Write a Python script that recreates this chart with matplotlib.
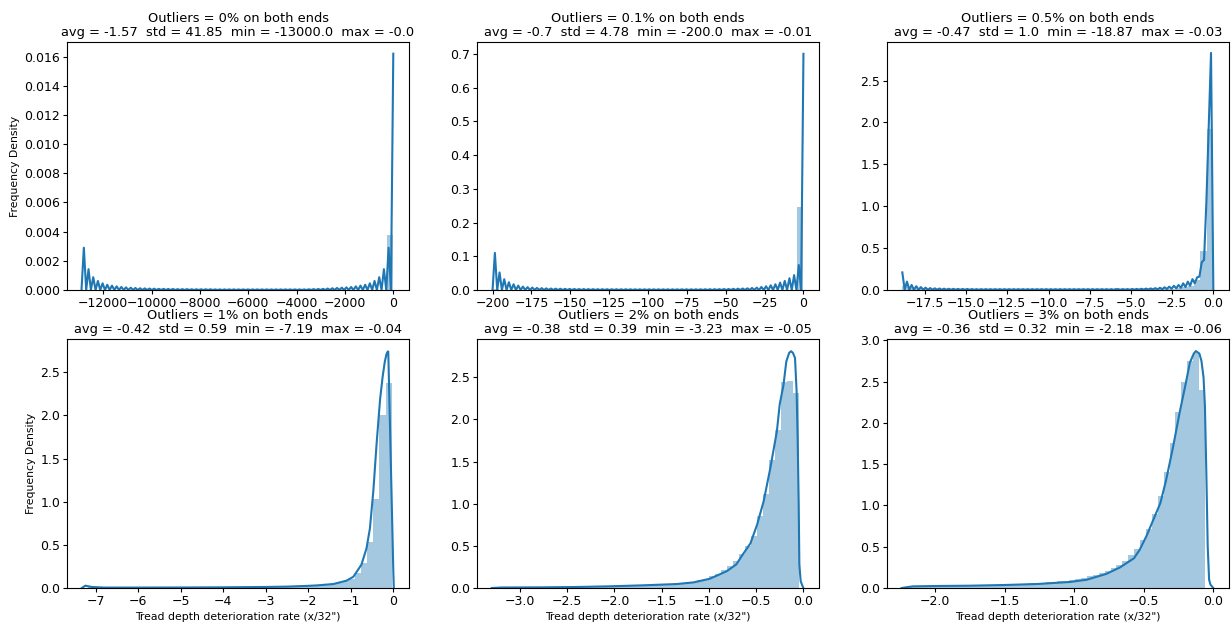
import numpy as np
import matplotlib
matplotlib.use("Agg")
import matplotlib.pyplot as plt
from matplotlib.ticker import MultipleLocator

# ---------------- data ----------------
outlier_pct = ["0%", "0.1%", "0.5%", "1%", "2%", "3%"]
stat_avg = ["-1.57", "-0.7", "-0.47", "-0.42", "-0.38", "-0.36"]
stat_std = ["41.85", "4.78", "1.0", "0.59", "0.39", "0.32"]
stat_min = ["-13000.0", "-200.0", "-18.87", "-7.19", "-3.23", "-2.18"]
stat_max = ["-0.0", "-0.01", "-0.03", "-0.04", "-0.05", "-0.06"]

# histogram range (data min / max) for each panel, 50 bins each
hist_lo = [-13000.0, -200.0, -18.87, -7.19, -3.23, -2.18]
hist_hi = [0.0, -0.01, -0.03, -0.04, -0.05, -0.06]

# density heights of the 50 bins (left -> right)
hist1 = [0.00002, 0.000005, 0.000003, 0.000002, 0.000002, 0.000001, 0.000001, 0.000001, 0.000001, 0.000001,
         0.000001, 0.000001, 0.000001, 0.000001, 0.000001, 0.000001, 0.000001, 0.000001, 0.000001, 0.000001,
         0.000001, 0.000001, 0.000001, 0.000001, 0.000001, 0.000001, 0.000001, 0.000001, 0.000001, 0.000001,
         0.000001, 0.000001, 0.000001, 0.000001, 0.000001, 0.000001, 0.000001, 0.000001, 0.000001, 0.000001,
         0.000001, 0.000001, 0.000002, 0.000002, 0.000002, 0.000003, 0.000004, 0.000006, 0.00002, 0.0038]
hist2 = [0.002, 0.0004, 0.0002, 0.0001, 0.0001, 0.0001, 0.0001, 0.0001, 0.0001, 0.0001,
         0.0001, 0.0001, 0.0001, 0.0001, 0.0001, 0.0001, 0.0001, 0.0001, 0.0001, 0.0001,
         0.0001, 0.0001, 0.0001, 0.0001, 0.0001, 0.0001, 0.0001, 0.0001, 0.0001, 0.0001,
         0.0001, 0.0001, 0.0001, 0.0001, 0.0001, 0.0001, 0.0001, 0.0001, 0.0001, 0.0001,
         0.0001, 0.0001, 0.0001, 0.0001, 0.0001, 0.0002, 0.0002, 0.0003, 0.001, 0.245]
hist3 = [0.05, 0.025, 0.015, 0.012, 0.01, 0.009, 0.008, 0.008, 0.007, 0.007,
         0.006, 0.006, 0.006, 0.006, 0.006, 0.006, 0.006, 0.006, 0.006, 0.006,
         0.006, 0.006, 0.006, 0.006, 0.006, 0.006, 0.006, 0.006, 0.006, 0.006,
         0.006, 0.006, 0.006, 0.006, 0.006, 0.006, 0.006, 0.006, 0.006, 0.006,
         0.008, 0.01, 0.012, 0.016, 0.022, 0.03, 0.05, 0.12, 0.47, 1.92]
hist4 = [0.02, 0.006, 0.005, 0.005, 0.004, 0.004, 0.004, 0.004, 0.004, 0.004,
         0.004, 0.005, 0.005, 0.005, 0.005, 0.005, 0.006, 0.006, 0.006, 0.007,
         0.007, 0.007, 0.008, 0.008, 0.009, 0.01, 0.01, 0.011, 0.012, 0.013,
         0.014, 0.015, 0.016, 0.018, 0.02, 0.022, 0.025, 0.03, 0.035, 0.04,
         0.05, 0.06, 0.08, 0.11, 0.17, 0.29, 0.53, 1.03, 2.01, 2.38]
hist5 = [0.006, 0.006, 0.007, 0.007, 0.008, 0.008, 0.009, 0.009, 0.01, 0.011,
         0.012, 0.013, 0.014, 0.015, 0.016, 0.017, 0.018, 0.019, 0.02, 0.022,
         0.024, 0.026, 0.028, 0.03, 0.032, 0.035, 0.038, 0.04, 0.045, 0.05,
         0.055, 0.065, 0.075, 0.09, 0.11, 0.14, 0.17, 0.21, 0.26, 0.32,
         0.40, 0.50, 0.62, 0.85, 1.12, 1.52, 1.88, 2.45, 2.46, 2.32]
hist6 = [0.02, 0.021, 0.022, 0.023, 0.024, 0.025, 0.026, 0.027, 0.028, 0.029,
         0.03, 0.032, 0.034, 0.036, 0.038, 0.04, 0.042, 0.045, 0.048, 0.05,
         0.055, 0.06, 0.065, 0.07, 0.075, 0.08, 0.09, 0.10, 0.11, 0.12,
         0.14, 0.16, 0.18, 0.21, 0.24, 0.28, 0.33, 0.40, 0.47, 0.58,
         0.72, 0.90, 1.12, 1.40, 1.76, 2.13, 2.50, 2.75, 2.85, 2.40]

# KDE curves: evaluation grid range + number of grid points, and densities
kde1_grid = (-12900.0, 0.0, 134)
kde1_y = [0.0, 0.0029, 0.0, 0.00143, 0.0, 0.00088, 0.0, 0.00062, 0.0, 0.00046,
          0.0, 0.00036, 0.0, 0.0003, 0.0, 0.00025, 0.0, 0.00021, 0.0, 0.00018,
          0.0, 0.00016, 0.0, 0.00014, 0.0, 0.00012, 0.0, 0.00011, 0.0, 0.0001,
          0.0, 0.00009, 0.0, 0.00008, 0.0, 0.00008, 0.0, 0.00007, 0.0, 0.00007,
          0.0, 0.00006, 0.0, 0.00006, 0.0, 0.00006, 0.0, 0.00005, 0.0, 0.00005,
          0.0, 0.00005, 0.0, 0.00005, 0.0, 0.00005, 0.0, 0.00004, 0.0, 0.00004,
          0.0, 0.00004, 0.0, 0.00004, 0.0, 0.00004, 0.0, 0.00004, 0.0, 0.00004,
          0.0, 0.00004, 0.0, 0.00004, 0.0, 0.00004, 0.0, 0.00004, 0.0, 0.00004,
          0.0, 0.00004, 0.0, 0.00004, 0.0, 0.00004, 0.0, 0.00004, 0.0, 0.00004,
          0.0, 0.00004, 0.0, 0.00004, 0.0, 0.00004, 0.0, 0.00005, 0.0, 0.00006,
          0.0, 0.00007, 0.0, 0.00008, 0.0, 0.0001, 0.0, 0.00012, 0.0, 0.00014,
          0.0, 0.00016, 0.0, 0.00018, 0.0, 0.00021, 0.0, 0.00025, 0.0, 0.0003,
          0.0, 0.00036, 0.0, 0.00046, 0.0, 0.00062, 0.0, 0.00088, 0.0, 0.00143,
          0.0, 0.0029, 0.0, 0.0162]

kde2_grid = (-200.0, 0.0, 134)
kde2_y = [0.0, 0.110, 0.0, 0.052, 0.0, 0.032, 0.0, 0.023, 0.0, 0.017,
          0.0, 0.013, 0.0, 0.010, 0.0, 0.0085, 0.0, 0.0072, 0.0, 0.0062,
          0.0, 0.0055, 0.0, 0.0049, 0.0, 0.0044, 0.0, 0.004, 0.0, 0.0037,
          0.0, 0.0034, 0.0, 0.0032, 0.0, 0.003, 0.0, 0.0028, 0.0, 0.0027,
          0.0, 0.0026, 0.0, 0.0025, 0.0, 0.0024, 0.0, 0.0023, 0.0, 0.0023,
          0.0, 0.0022, 0.0, 0.0022, 0.0, 0.0021, 0.0, 0.0021, 0.0, 0.0021,
          0.0, 0.002, 0.0, 0.002, 0.0, 0.002, 0.0, 0.002, 0.0, 0.002,
          0.0, 0.002, 0.0, 0.002, 0.0, 0.002, 0.0, 0.002, 0.0, 0.002,
          0.0, 0.002, 0.0, 0.002, 0.0, 0.002, 0.0, 0.002, 0.0, 0.0021,
          0.0, 0.0022, 0.0, 0.0023, 0.0, 0.0024, 0.0, 0.0025, 0.0, 0.0028,
          0.0, 0.003, 0.0, 0.0035, 0.0, 0.004, 0.0, 0.0045, 0.0, 0.005,
          0.0, 0.006, 0.0, 0.007, 0.0, 0.009, 0.0, 0.011, 0.0, 0.014,
          0.0, 0.017, 0.0, 0.022, 0.0, 0.027, 0.0, 0.035, 0.0, 0.044,
          0.0, 0.074, 0.0, 0.70]

kde3_grid = (-18.87, 0.0, 135)
kde3_y = [0.21, 0.005, 0.10, 0.004, 0.06, 0.003, 0.045, 0.003, 0.035, 0.003,
          0.028, 0.003, 0.023, 0.003, 0.02, 0.003, 0.018, 0.003, 0.016, 0.003,
          0.015, 0.003, 0.014, 0.003, 0.013, 0.003, 0.012, 0.003, 0.012, 0.003,
          0.011, 0.003, 0.01, 0.003, 0.01, 0.003, 0.01, 0.003, 0.01, 0.003,
          0.01, 0.003, 0.01, 0.003, 0.01, 0.003, 0.01, 0.003, 0.01, 0.003,
          0.01, 0.003, 0.01, 0.003, 0.01, 0.003, 0.01, 0.003, 0.01, 0.003,
          0.01, 0.003, 0.01, 0.003, 0.01, 0.003, 0.01, 0.003, 0.01, 0.003,
          0.01, 0.003, 0.01, 0.003, 0.01, 0.003, 0.01, 0.003, 0.01, 0.003,
          0.01, 0.003, 0.01, 0.003, 0.01, 0.003, 0.01, 0.003, 0.01, 0.003,
          0.01, 0.003, 0.01, 0.01, 0.003, 0.011, 0.003, 0.011, 0.003, 0.012,
          0.004, 0.013, 0.004, 0.015, 0.005, 0.017, 0.006, 0.019, 0.007, 0.022,
          0.008, 0.026, 0.01, 0.032, 0.012, 0.04, 0.015, 0.05, 0.02, 0.06,
          0.025, 0.08, 0.035, 0.10, 0.05, 0.13, 0.08, 0.15, 0.16, 0.33,
          0.36, 1.05, 1.94, 2.83, 0.0]

kde4_x = [-7.33, -7.25, -7.1, -6.8, -6.0, -5.0, -4.0, -3.0, -2.5, -2.0, -1.8, -1.41, -1.1, -0.94,
          -0.75, -0.63, -0.55, -0.47, -0.39, -0.31, -0.25, -0.2, -0.16, -0.13, -0.118, -0.08,
          -0.04, 0.0, 0.012]
kde4_y = [0.0, 0.027, 0.012, 0.005, 0.005, 0.006, 0.008, 0.012, 0.016, 0.025, 0.03, 0.046, 0.085, 0.13,
          0.27, 0.46, 0.69, 1.12, 1.69, 2.19, 2.45, 2.62, 2.71, 2.74, 2.74, 1.93,
          1.07, 0.21, 0.0]

kde5_x = [-3.3, -3.2, -2.75, -2.4, -2.05, -1.69, -1.34, -1.16, -0.99, -0.81, -0.71, -0.64, -0.56,
          -0.49, -0.42, -0.35, -0.28, -0.25, -0.21, -0.18, -0.15, -0.13, -0.11, -0.088, -0.071,
          -0.06, -0.049, -0.042, -0.028, 0.0]
kde5_y = [0.0, 0.006, 0.008, 0.012, 0.02, 0.032, 0.047, 0.067, 0.11, 0.20, 0.28, 0.40, 0.53,
          0.75, 1.03, 1.42, 1.86, 2.18, 2.41, 2.69, 2.79, 2.81, 2.79, 2.73, 2.33,
          1.78, 0.99, 0.28, 0.08, 0.0]

kde6_x = [-2.24, -2.16, -2.0, -1.75, -1.51, -1.27, -1.03, -0.91, -0.77, -0.67, -0.57, -0.53, -0.48,
          -0.43, -0.38, -0.34, -0.29, -0.24, -0.2, -0.168, -0.14, -0.125, -0.1, -0.085, -0.07,
          -0.06, -0.05, -0.04, -0.03, -0.02, 0.0]
kde6_y = [0.0, 0.02, 0.024, 0.028, 0.036, 0.048, 0.073, 0.10, 0.17, 0.25, 0.36, 0.46, 0.63,
          0.83, 1.03, 1.30, 1.70, 2.14, 2.46, 2.73, 2.84, 2.87, 2.84, 2.75, 2.55,
          2.2, 1.4, 0.5, 0.1, 0.04, 0.0]

hists = [hist1, hist2, hist3, hist4, hist5, hist6]
kdes = [
    (np.linspace(*kde1_grid[:2], kde1_grid[2]), kde1_y),
    (np.linspace(*kde2_grid[:2], kde2_grid[2]), kde2_y),
    (np.linspace(*kde3_grid[:2], kde3_grid[2]), kde3_y),
    (kde4_x, kde4_y),
    (kde5_x, kde5_y),
    (kde6_x, kde6_y),
]

# ---------------- layout / style ----------------
W, H = 1232, 622
fig = plt.figure(figsize=(W / 100, H / 100), dpi=100)
col_left = [67, 477, 887]
ax_w = 342
row_top = [42, 339]
row_bot = [290, 588]

xlims = [(-13500, 650), (-210, 10), (-19.8, 0.95), (-7.68, 0.37), (-3.456, 0.166), (-2.345, 0.113)]
ylims = [(0, 0.017), (0, 0.735), (0, 2.96), (0, 2.885), (0, 2.955), (0, 3.016)]
xsteps = [2000, 25, 2.5, 1, 0.5, 0.5]

blue = "#1f77b4"
xtick_fs = 9.0
ytick_fs = 9.0
title_fs = 9.4
label_fs = 7.8

for i in range(6):
    r, c = divmod(i, 3)
    l = col_left[c] / W
    b = 1 - row_bot[r] / H
    h = (row_bot[r] - row_top[r]) / H
    ax = fig.add_axes([l, b, ax_w / W, h])
    edges = np.linspace(hist_lo[i], hist_hi[i], len(hists[i]) + 1)
    ax.bar(edges[:-1], hists[i], width=np.diff(edges), align="edge",
           color=blue, alpha=0.4, linewidth=0)
    kx, ky = kdes[i]
    ax.plot(kx, ky, color=blue, lw=1.5)
    ax.set_xlim(*xlims[i])
    ax.set_ylim(*ylims[i])
    ax.xaxis.set_major_locator(MultipleLocator(xsteps[i]))
    ax.tick_params(axis="x", labelsize=xtick_fs, length=3.0, width=0.8, pad=2)
    ax.tick_params(axis="y", labelsize=ytick_fs, length=3.0, width=0.8, pad=2)
    ax.set_title(f"Outliers = {outlier_pct[i]} on both ends\n"
                 f"avg = {stat_avg[i]}  std = {stat_std[i]}  min = {stat_min[i]}  max = {stat_max[i]}",
                 fontsize=title_fs, pad=4, linespacing=1.1)
    if c == 0:
        ax.set_ylabel("Frequency Density", fontsize=label_fs, labelpad=3)
    if r == 1:
        ax.set_xlabel("Tread depth deterioration rate (x/32\")", fontsize=label_fs, labelpad=3)

fig.savefig("out.png", dpi=100)
